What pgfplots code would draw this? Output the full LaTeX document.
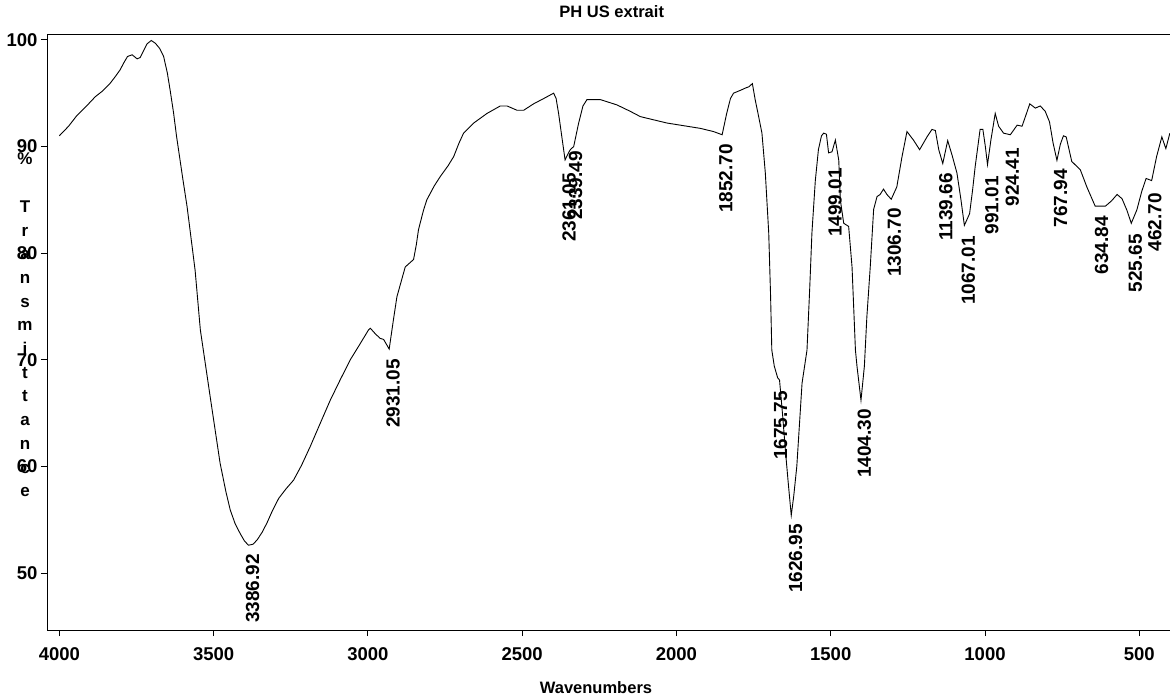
\documentclass[border=0pt]{standalone}
\usepackage{fontspec}
\setmainfont{Liberation Sans}
\usepackage{pgfplots}
\pgfplotsset{compat=1.18}
\tikzset{pk/.style={rotate=90, anchor=east, inner sep=0pt, xshift=-1bp, yshift=-4bp, font=\fontsize{19bp}{20bp}\selectfont\bfseries}}
\begin{document}
\begin{tikzpicture}
\path[use as bounding box] (-47bp,-68bp) rectangle (1123bp,630bp);
\begin{axis}[
  at={(0,0)}, anchor=south west,
  scale only axis, width=1125bp, height=596bp,
  x dir=reverse,
  xmin=394, xmax=4040, ymin=44.65, ymax=100.55,
  xtick={500,1000,...,4000}, ytick={50,60,...,100},
  /pgf/number format/assume math mode=true,
  /pgf/number format/1000 sep={},
  tick align=outside,
  major tick length=6bp,
  xtick pos=bottom, ytick pos=left,
  axis line style={line width=0.9bp},
  tick style={black, line width=0.9bp},
  tick label style={font=\fontsize{18.5bp}{20bp}\selectfont\bfseries},
  xticklabel style={yshift=-8bp},
  title={PH US extrait},
  title style={font=\fontsize{16.5bp}{18bp}\selectfont\bfseries, at={(axis description cs:0.502,1)}, anchor=base, yshift=11bp, inner sep=0pt},
  xlabel={Wavenumbers},
  xlabel style={font=\fontsize{16.5bp}{18bp}\selectfont\bfseries, at={(axis description cs:0.488,0)}, anchor=base, yshift=-63bp, inner sep=0pt},
  ylabel={\%\\[23.7bp]T\\r\\a\\n\\s\\m\\i\\t\\t\\a\\n\\c\\e},
  every axis y label/.style={at={(axis description cs:0,0.5117)}, anchor=center, xshift=-22bp, align=center, font=\fontsize{17bp}{23.7bp}\selectfont\bfseries, inner sep=0pt},
]
\addplot[black, line width=0.9bp] coordinates {
(4000,91.0) (3970,91.9) (3944,92.87) (3915,93.7) (3883,94.68) (3860,95.2) (3835,95.94)
(3820,96.5) (3803,97.19) (3790,97.9) (3779,98.44)
(3764,98.6) (3748,98.22) (3738,98.34) (3725,99.1) (3716,99.62) (3702,99.94) (3689,99.69)
(3675,99.2) (3662,98.44) (3650,96.9) (3641,95.3) (3630,93.2) (3620,90.93) (3600,87.0) (3586,84.36) (3560,78.4) (3543,72.8)
(3511,66.5) (3479,60.3) (3460,57.6) (3446,55.9) (3430,54.6) (3414,53.7) (3400,53.0) (3387,52.6) (3372,52.7) (3359,53.1)
(3343,53.8) (3327,54.7) (3310,55.8) (3289,57.0) (3265,57.9) (3241,58.7) (3215,60.1) (3187,61.85) (3155,64.0) (3122,66.2) (3090,68.1) (3057,70.0)
(3025,71.5) (2998,72.8) (2992,72.95) (2975,72.4) (2960,72.0) (2949,71.9) (2931,71.0) (2918,73.6) (2906,75.9)
(2879,78.7) (2852,79.4) (2843,80.8) (2836,82.2) (2820,84.0) (2809,85.0) (2785,86.3) (2765,87.2) (2740,88.2) (2722,89.05)
(2705,90.3) (2690,91.25) (2657,92.2) (2614,93.1) (2571,93.8) (2549,93.8) (2517,93.4)
(2495,93.4) (2463,94.0) (2430,94.5) (2398,95.0) (2390,94.5) (2382,93.1) (2370,90.6) (2361,88.74) (2350,89.4) (2344,89.7)
(2333,90.0) (2317,92.2) (2303,93.8) (2290,94.4) (2247,94.4) (2193,93.9) (2150,93.3) (2117,92.8)
(2031,92.2) (1923,91.7) (1880,91.4) (1852,91.1) (1838,93.0) (1825,94.5) (1815,95.0) (1790,95.3)
(1775,95.5) (1765,95.6) (1754,95.9) (1745,94.4) (1735,93.0) (1723,91.25) (1712,87.5) (1701,81.9) (1695,76.0) (1691,70.9)
(1683,69.4) (1676,68.7) (1672,68.3) (1666,68.1) (1656,64.8) (1647,61.5) (1637,58.2) (1628,55.4) (1620,57.2) (1610,60.0)
(1593,67.8) (1577,70.9) (1568,76.8) (1561,81.9) (1550,86.8) (1540,89.7) (1530,91.0) (1523,91.25) (1514,91.15)
(1507,89.4) (1496,89.5) (1485,90.6) (1474,88.7) (1469,85.0) (1458,82.8)
(1442,82.5) (1431,78.7) (1420,70.9) (1415,69.4) (1402,66.2) (1391,69.4)
(1383,74.0) (1372,78.7) (1361,84.1) (1350,85.3) (1340,85.5) (1329,86.0) (1318,85.5)
(1304,85.05) (1286,86.2) (1269,89.05) (1253,91.4) (1232,90.6) (1212,89.7)
(1200,90.3) (1188,90.9) (1172,91.6) (1161,91.5) (1150,89.7) (1137,88.4) (1121,90.55)
(1107,89.2) (1091,87.5) (1078,85.0) (1067,82.6) (1050,83.7) (1040,86.0) (1032,88.1)
(1016,91.6) (1007,91.6) (999,90.0) (992,88.3) (981,90.6) (967,93.1)
(956,91.9) (940,91.25) (918,91.1) (896,92.0) (880,91.9) (868,92.9) (855,94.0)
(837,93.6) (821,93.8) (805,93.3) (791,92.3) (780,90.4) (767,88.7) (756,90.2) (746,91.0) (737,90.9)
(719,88.6) (691,87.8) (670,86.2) (655,85.2) (643,84.4) (610,84.4) (590,84.9) (572,85.5)
(556,85.1) (540,84.0) (526,82.8) (508,84.05) (492,85.8) (478,87.0) (460,86.8) (444,89.05)
(427,90.9) (414,89.8) (401,91.25)
};
\node[pk] at (axis cs:3386.92,51.88) {3386.92};
\node[pk] at (axis cs:2931.05,70.17) {2931.05};
\node[pk] at (axis cs:2361.05,87.62) {2361.05};
\node[pk] at (axis cs:2339.49,89.68) {2339.49};
\node[pk] at (axis cs:1852.70,90.34) {1852.70};
\node[pk] at (axis cs:1675.75,67.17) {1675.75};
\node[pk] at (axis cs:1626.95,54.69) {1626.95};
\node[pk] at (axis cs:1499.01,88.09) {1499.01};
\node[pk] at (axis cs:1404.30,65.48) {1404.30};
\node[pk] at (axis cs:1306.70,84.33) {1306.70};
\node[pk] at (axis cs:1139.66,87.62) {1139.66};
\node[pk] at (axis cs:1067.01,81.71) {1067.01};
\node[pk] at (axis cs:991.01,87.34) {991.01};
\node[pk] at (axis cs:924.41,89.96) {924.41};
\node[pk] at (axis cs:767.94,87.99) {767.94};
\node[pk] at (axis cs:634.84,83.58) {634.84};
\node[pk] at (axis cs:525.65,81.89) {525.65};
\node[pk] at (axis cs:462.70,85.74) {462.70};
\end{axis}
\end{tikzpicture}
\end{document}
